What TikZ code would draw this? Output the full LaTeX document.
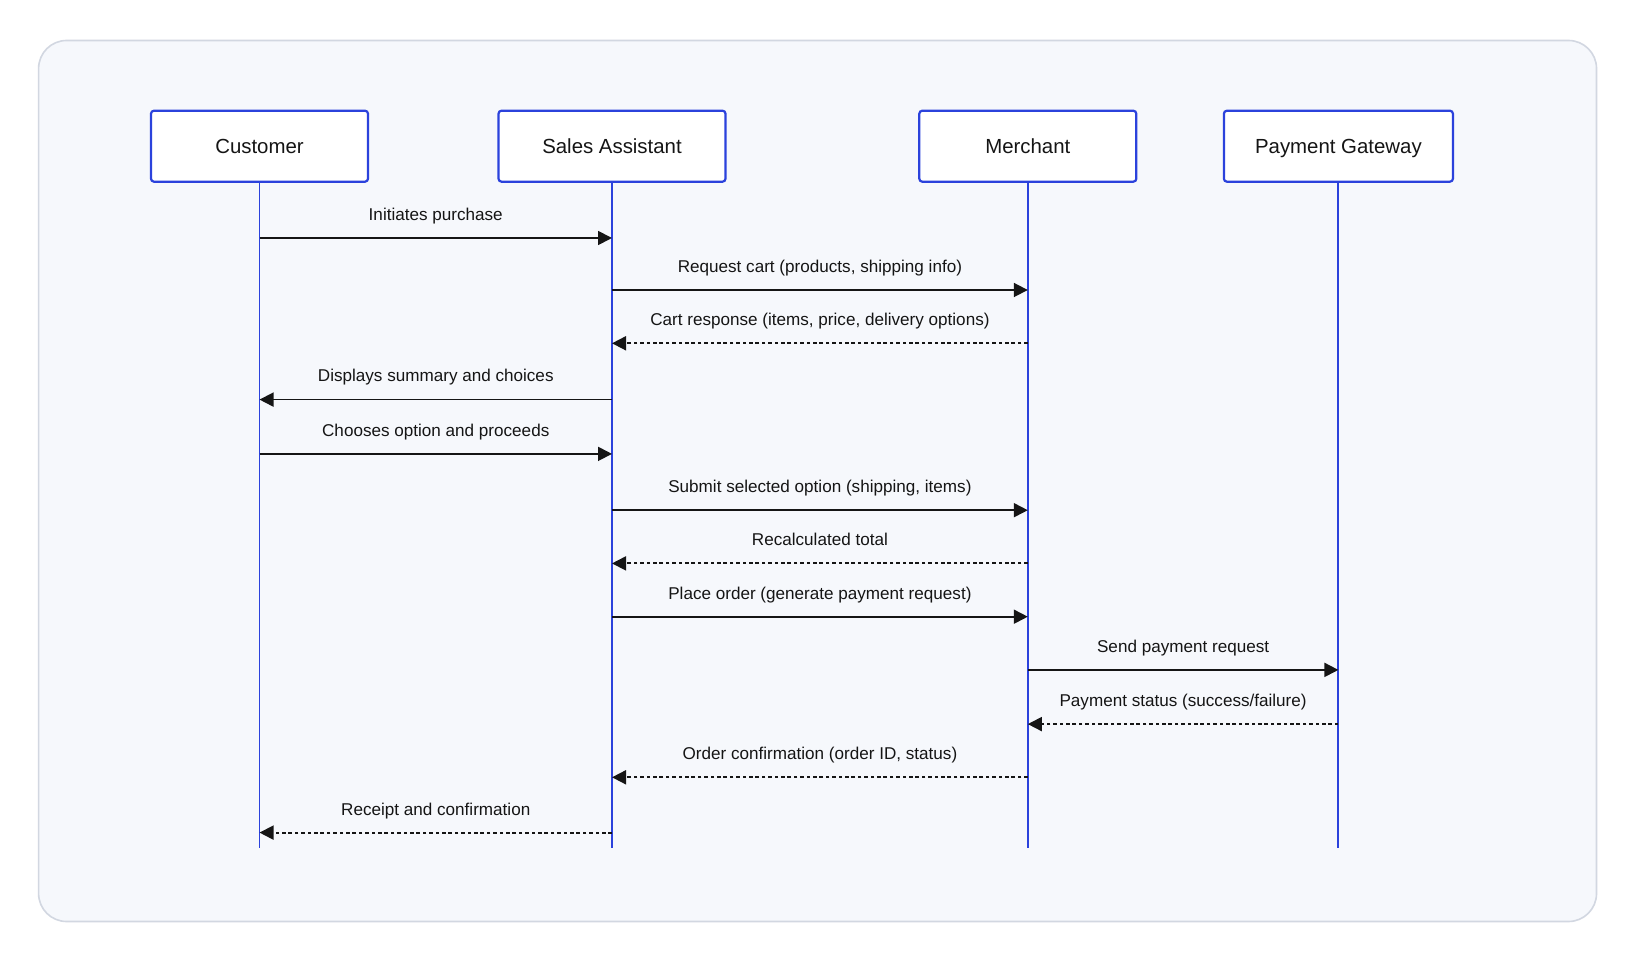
\documentclass[tikz,border=0pt]{standalone}
\usepackage{fontspec}
\setmainfont{Liberation Sans}
\usetikzlibrary{arrows.meta}

\definecolor{lifeblue}{HTML}{2B42DC}
\definecolor{framefill}{HTML}{F6F8FC}
\definecolor{framedraw}{HTML}{D2D7E1}
\definecolor{inkblack}{HTML}{151515}

\begin{document}
\begin{tikzpicture}[x=0.5pt, y=-0.5pt,
		actor/.style={draw=lifeblue, line width=1.1pt, fill=white, rounded corners=1.5pt, minimum height=35.5pt, text height=8.4pt, text depth=1.1pt, font=\fontsize{10.2}{12}\selectfont, text=inkblack},
		lifeline/.style={draw=lifeblue, line width=0.95pt},
		msg/.style={draw=inkblack, line width=0.9pt, -{Triangle[length=7pt,width=7pt]}},
		reply/.style={msg, dash pattern=on 1.8pt off 1.4pt},
		lbl/.style={font=\fontsize{8.55}{10}\selectfont, text=inkblack, text height=6.2pt, text depth=1.8pt, yshift=11pt}]
	\useasboundingbox (0,0) rectangle (1636,961);
	\fill[white] (0,0) rectangle (1636,961);
	\draw[fill=framefill, draw=framedraw, line width=0.8pt, rounded corners=14pt] (38.6,40.5) rectangle (1596.5,921.5);

	\node[actor, minimum width=108.5pt] (cust) at (259.5,146.2) {Customer};
	\node[actor, minimum width=113.5pt] (sales) at (612,146.2) {Sales Assistant};
	\node[actor, minimum width=108.5pt] (merch) at (1027.8,146.2) {Merchant};
	\node[actor, minimum width=114.5pt] (pay) at (1338.4,146.2) {Payment Gateway};

	\foreach \n in {cust, sales, merch, pay} {
		\coordinate (\n end) at (\n.south |- 0,848);
		\draw[lifeline] (\n.south) -- (\n end);
	}

	\foreach \y/\a/\b/\t in {238/cust/sales/{Initiates purchase},
			290/sales/merch/{Request cart (products, shipping info)},
			399.6/sales/cust/{Displays summary and choices},
			453.9/cust/sales/{Chooses option and proceeds},
			510.2/sales/merch/{Submit selected option (shipping, items)},
			616.7/sales/merch/{Place order (generate payment request)},
			669.9/merch/pay/{Send payment request}}
		\draw[msg] (\a |- 0,\y) -- (\b |- 0,\y) node[lbl, midway] {\t};

	\foreach \y/\a/\b/\t in {343.3/merch/sales/{Cart response (items, price, delivery options)},
			563.4/merch/sales/{Recalculated total},
			724.1/pay/merch/{Payment status (success/failure)},
			777.3/merch/sales/{Order confirmation (order ID, status)},
			832.6/sales/cust/{Receipt and confirmation}}
		\draw[reply] (\a |- 0,\y) -- (\b |- 0,\y) node[lbl, midway] {\t};
\end{tikzpicture}
\end{document}
